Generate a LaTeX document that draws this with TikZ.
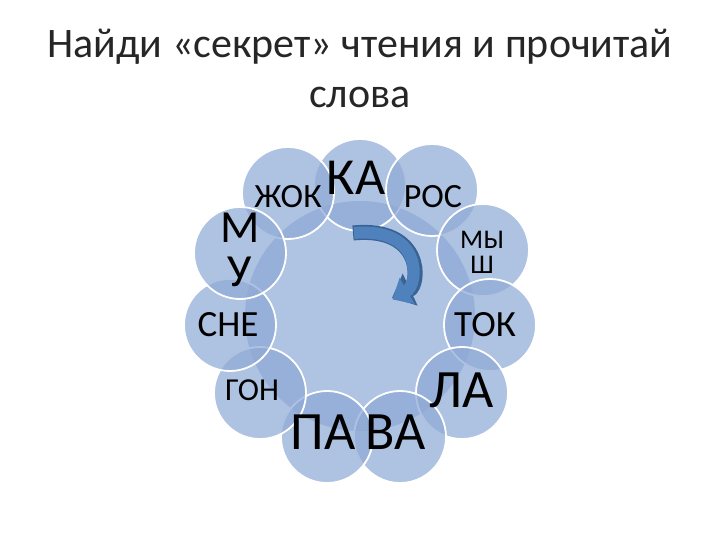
\documentclass[tikz,border=0pt]{standalone}
\usepackage{fontspec}
\setmainfont{Carlito}
\usetikzlibrary{arrows.meta}
\definecolor{cfill}{HTML}{8FAAD6}
\definecolor{cbig}{HTML}{AFC3E2}
\definecolor{arr}{HTML}{4F81BD}
\definecolor{arrd}{HTML}{3A6394}
\tikzset{
  x=1pt,y=-1pt,
  ring/.style={circle,fill=cfill,fill opacity=0.72,draw=white,line width=1.8pt,minimum size=92pt,inner sep=0pt},
  lbl/.style={inner sep=0pt,text=black}
}
\begin{document}
\begin{tikzpicture}
\useasboundingbox (0,0) rectangle (720,540);
\node[circle,fill=cbig,minimum size=230pt,inner sep=0pt] (big) at (360,316) {};
\foreach \n/\x/\y in {ka/360/185, zhok/288/193, ros/432/190, mysh/483/250, tok/490/325, la/462/393, va/400/437, pa/327/437, gon/260/393, sne/230/325, mu/240/253}{
  \node[ring] (c\n) at (\x,\y) {};
}
\node[font=\fontsize{42}{50}\selectfont,align=center,text=black!85] (title) at (360,68) {Найди «секрет» чтения и прочитай\\слова};
\node[lbl,font=\fontsize{52}{52}\selectfont] (tka) at (356,178) {КА};
\node[lbl,font=\fontsize{34}{34}\selectfont] (tzhok) at (288,197) {ЖОК};
\node[lbl,font=\fontsize{34}{34}\selectfont] (tros) at (433,197) {РОС};
\node[lbl,font=\fontsize{27}{27}\selectfont] (tmy) at (482,240) {МЫ};
\node[lbl,font=\fontsize{27}{27}\selectfont] (tsh) at (482,265) {Ш};
\node[lbl,font=\fontsize{46}{46}\selectfont] (tm) at (240,228) {М};
\node[lbl,font=\fontsize{46}{46}\selectfont] (tu) at (240,272) {У};
\node[lbl,font=\fontsize{37}{37}\selectfont] (tsne) at (228,325) {СНЕ};
\node[lbl,font=\fontsize{37}{37}\selectfont] (ttok) at (485,325) {ТОК};
\node[lbl,font=\fontsize{32}{32}\selectfont] (tgon) at (252,390) {ГОН};
\node[lbl,font=\fontsize{54}{54}\selectfont] (tla) at (462,390) {ЛА};
\node[lbl,font=\fontsize{54}{54}\selectfont] (tpa) at (323,432) {ПА};
\node[lbl,font=\fontsize{54}{54}\selectfont] (tva) at (396,432) {ВА};
\coordinate (as) at (353,233);
\coordinate (ae) at (392,298);
\draw[arrd,line width=15pt,-{Triangle[width=34pt,length=20pt]}] (as) .. controls (424,226) and (420,285) .. (ae);
\draw[arr,line width=12pt,-{Triangle[width=29pt,length=17pt]}] ([xshift=1pt]as) .. controls (423,227) and (419,284) .. ([xshift=0.5pt,yshift=-1.5pt]ae);
\end{tikzpicture}
\end{document}
